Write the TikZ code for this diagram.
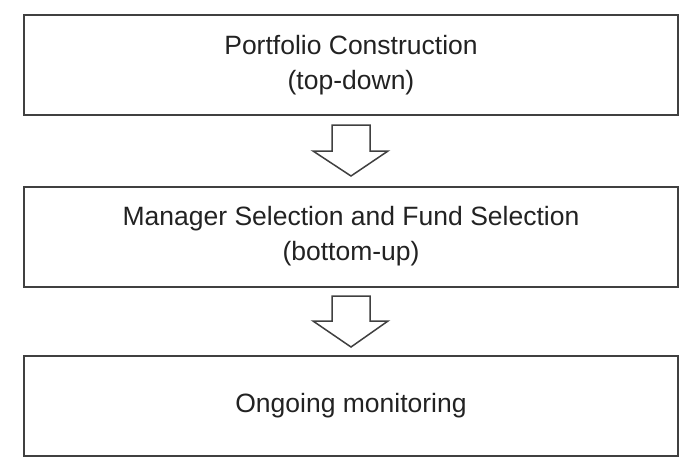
\documentclass[tikz,border=0pt]{standalone}
\usepackage{fontspec}
\setmainfont{Liberation Sans}
\definecolor{linec}{HTML}{404040}
\definecolor{textc}{HTML}{222222}
\begin{document}
\begin{tikzpicture}[x=1pt,y=-1pt,
  stagebox/.style={draw=linec,line width=2pt,minimum width=654pt,minimum height=100pt,
    align=center,font=\fontsize{26.5}{35}\selectfont,text=textc,inner sep=0pt},
  blockarrow/.style={draw=linec,line width=1.5pt,fill=white,line join=miter}]
\useasboundingbox (0,0) rectangle (697,467);
\node[stagebox] (p) at (351,65) {Portfolio Construction\\(top-down)};
\node[stagebox] (m) at (351,236.5) {Manager Selection and Fund Selection\\(bottom-up)};
\node[stagebox] (o) at (351,405.5) {Ongoing monitoring};
\draw[blockarrow] (332,125) -- (370,125) -- (370,151) -- (388,151) -- (351,176) -- (313,151) -- (332,151) -- cycle;
\draw[blockarrow] (332,296) -- (370,296) -- (370,321) -- (388,321) -- (351,347) -- (313,321) -- (332,321) -- cycle;
\end{tikzpicture}
\end{document}
